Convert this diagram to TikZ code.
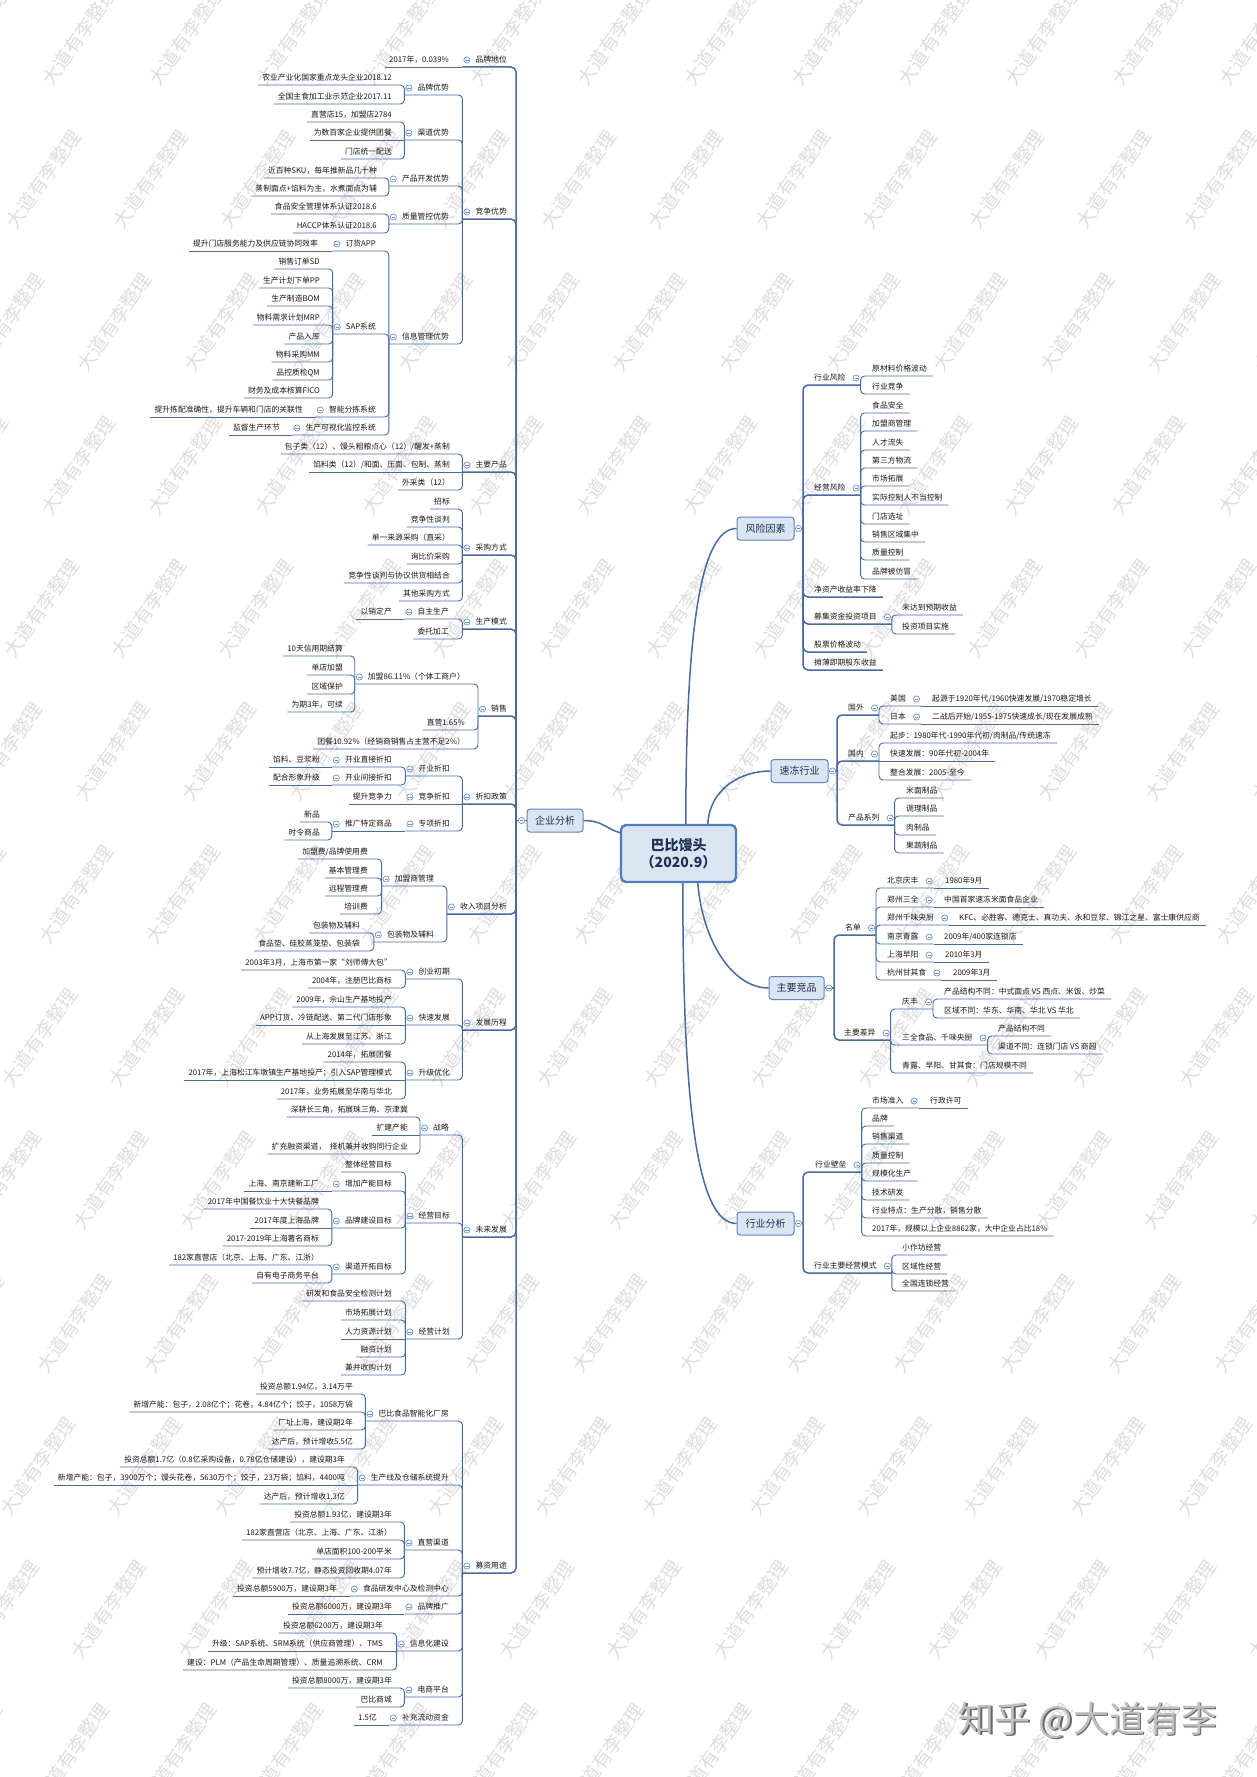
\documentclass[tikz,border=0pt]{standalone}
\usepackage{fontspec}
\setmainfont{Noto Sans CJK SC}
\usetikzlibrary{calc}
\definecolor{lc}{RGB}{72,106,160}
\definecolor{dc}{RGB}{110,145,200}
\definecolor{bxf}{RGB}{219,229,242}
\definecolor{bxd}{RGB}{96,132,188}
\definecolor{ctd}{RGB}{78,126,190}
\definecolor{txt}{RGB}{25,25,25}
\definecolor{btx}{RGB}{30,48,85}
\definecolor{wmc}{RGB}{222,222,222}
\tikzset{
  lt/.style={inner sep=0pt, font=\fontsize{7.8}{9}\selectfont, text=txt, text height=6.5pt, text depth=1.5pt},
  con/.style={draw=lc, line width=0.9pt, rounded corners=4pt},
  con1/.style={draw=lc, line width=1.5pt, rounded corners=5pt},
  bx/.style={draw=bxd, fill=bxf, rounded corners=3pt, line width=1pt, minimum width=57pt, minimum height=23pt, inner sep=0pt, font=\fontsize{10}{12}\selectfont, text=btx},
  wm/.style={inner sep=0pt, font=\fontsize{19}{19}\selectfont, text=wmc, rotate=55, anchor=west},
}
\newcommand\Dot[1]{\path #1 coordinate (dtmp);
  \filldraw[fill=white, draw=dc, line width=0.7pt] (dtmp) circle[radius=3.1pt];
  \draw[dc, line width=0.6pt] ($(dtmp)+(-1.6,0)$) -- ($(dtmp)+(1.6,0)$);}
\newcommand\SetY[2]{\expandafter\gdef\csname ty@#1\endcsname{#2}}
\newcommand\LinkL[3]{%
  \ifdim\csname ty@#2\endcsname pt=\csname ty@#3\endcsname pt
    \draw[#1] (#2-l) -- (#3-l);
  \else
    \draw[#1] (#2-l) -| (#3-l);
  \fi}
\newcommand\LinkR[3]{%
  \ifdim\csname ty@#2\endcsname pt=\csname ty@#3\endcsname pt
    \draw[#1] (#2-r) -- (#3-r);
  \else
    \draw[#1] (#2-r) -| (#3-r);
  \fi}
\newcommand\LLf[6][con]{%
  \node[lt,anchor=east] (#2) at (#4,#5) {#6};
  \SetY{#2}{#5}%
  \coordinate (#2-l) at ($(#2.west)+(-4,7)$);
  \LinkL{#1}{#2}{#3}}
\newcommand\LLp[6][con]{%
  \node[lt,anchor=east] (#2) at (#4,#5) {#6};
  \SetY{#2}{#5}%
  \coordinate (#2-l) at ($(#2.west)+(-13,7)$);
  \LinkL{#1}{#2}{#3}%
  \Dot{($(#2.west)+(-8.5,0)$)}}
\newcommand\RRf[6][con]{%
  \node[lt,anchor=west] (#2) at (#4,#5) {#6};
  \SetY{#2}{#5}%
  \coordinate (#2-r) at ($(#2.east)+(6,7)$);
  \LinkR{#1}{#2}{#3}}
\newcommand\RRp[6][con]{%
  \node[lt,anchor=west] (#2) at (#4,#5) {#6};
  \SetY{#2}{#5}%
  \coordinate (#2-r) at ($(#2.east)+(15,7)$);
  \LinkR{#1}{#2}{#3}%
  \Dot{($(#2.east)+(10.5,0)$)}}

\begin{document}
\begin{tikzpicture}[x=1pt,y=-1pt]
\useasboundingbox[fill=white] (0,0) rectangle (1256,1777);

% watermark
\begin{scope}
\clip (0,0) rectangle (1256,1777);
\foreach \k in {-4,...,9}{
  \foreach \m in {-12,...,6}{
    \node[wm] (wm\k x\m) at ({1008-36.3*\k+107*\m},{512+143*\k}) {大道有李整理};
  }}
\end{scope}
\node[font=\fontsize{36}{36}\selectfont, text=black!60, inner sep=0pt] (zh2) at (1089.5,1721.5) {知乎 @大道有李};
\node[font=\fontsize{36}{36}\selectfont, text=black!25, inner sep=0pt] (zh) at (1088,1720) {知乎 @大道有李};

% center
\node[draw=ctd, fill=bxf, line width=2.4pt, rounded corners=5pt, minimum width=115pt, minimum height=57pt, align=center, font=\bfseries\fontsize{14}{17}\selectfont, text=btx, inner sep=0pt] (ct) at (678.5,853.5) {巴比馒头\\（2020.9）};

% level 1 boxes
\node[bx, minimum width=56pt] (qy) at (555,820.5) {企业分析};
\SetY{qy}{9999}
\coordinate (qy-l) at (516,820.5);
\draw[con1] (qy.west) -- (qy-l);
\Dot{(521.5,820.5)}

\node[bx] (fx) at (765.5,528.5) {风险因素};
\SetY{fx}{9999}
\coordinate (fx-r) at (803,528.5);
\draw[con1] (fx.east) -- (fx-r);
\Dot{(798.5,528.5)}

\node[bx] (sd) at (799.5,771) {速冻行业};
\SetY{sd}{9999}
\coordinate (sd-r) at (837,771);
\draw[con1] (sd.east) -- (sd-r);
\Dot{(832.5,771)}

\node[bx, minimum width=55pt] (jp) at (796.5,988) {主要竞品};
\SetY{jp}{9999}
\coordinate (jp-r) at (834,988);
\draw[con1] (jp.east) -- (jp-r);
\Dot{(829,988)}

\node[bx] (hy) at (765.5,1223.5) {行业分析};
\SetY{hy}{9999}
\coordinate (hy-r) at (803,1223.5);
\draw[con1] (hy.east) -- (hy-r);
\Dot{(798.5,1223.5)}

% center connectors
\draw[con1] (qy.east) .. controls +(20,0) and +(-14,-3) .. ($(ct.north west)+(1,9)$);
\draw[con1] ($(ct.north west)+(66,0)$) .. controls +(0,-200) and +(-35,0) .. (fx.west);
\draw[con1] ($(ct.north west)+(88,0)$) .. controls +(2,-35) and +(-30,0) .. (sd.west);
\draw[con1] ($(ct.south west)+(78,0)$) .. controls +(5,60) and +(-35,0) .. (jp.west);
\draw[con1] ($(ct.south west)+(63,0)$) .. controls +(0,220) and +(-40,0) .. (hy.west);

% ===== LEFT =====
\LLp[con1]{A1}{qy}{507}{60}{品牌地位}
\LLf{A1a}{A1}{449}{60}{2017年，0.039\%}

\LLp[con1]{A2}{qy}{507}{212}{竞争优势}
\LLp{B1}{A2}{449}{88}{品牌优势}
\LLf{B1a}{B1}{392}{78}{农业产业化国家重点龙头企业2018.12}
\LLf{B1b}{B1}{392}{97}{全国主食加工业示范企业2017.11}
\LLp{B2}{A2}{449}{133}{渠道优势}
\LLf{B2a}{B2}{392}{115}{直营店15，加盟店2784}
\LLf{B2b}{B2}{392}{133}{为数百家企业提供团餐}
\LLf{B2c}{B2}{392}{152}{门店统一配送}
\LLp{B3}{A2}{449}{179}{产品开发优势}
\LLf{B3a}{B3}{377}{171}{近百种SKU，每年推新品几十种}
\LLf{B3b}{B3}{377}{189}{蒸制面点+馅料为主，水煮面点为辅}
\LLp{B4}{A2}{449}{217}{质量管控优势}
\LLf{B4a}{B4}{377}{207}{食品安全管理体系认证2018.6}
\LLf{B4b}{B4}{377}{226}{HACCP体系认证2018.6}
\LLp{B5}{A2}{449}{337}{信息管理优势}
\LLp{C1}{B5}{376}{244}{订货APP}
\LLf{C1a}{C1}{318}{244}{提升门店服务能力及供应链协同效率}
\LLp{C2}{B5}{376}{327}{SAP系统}
\LLf{C2a}{C2}{320}{262}{销售订单SD}
\LLf{C2b}{C2}{320}{281}{生产计划下单PP}
\LLf{C2c}{C2}{320}{299}{生产制造BOM}
\LLf{C2d}{C2}{320}{318}{物料需求计划MRP}
\LLf{C2e}{C2}{320}{337}{产品入库}
\LLf{C2f}{C2}{320}{355}{物料采购MM}
\LLf{C2g}{C2}{320}{373}{品控质检QM}
\LLf{C2h}{C2}{320}{391}{财务及成本核算FICO}
\LLp{C3}{B5}{376}{410}{智能分拣系统}
\LLf{C3a}{C3}{303}{410}{提升拣配准确性，提升车辆和门店的关联性}
\LLp{C4}{B5}{376}{428}{生产可视化监控系统}
\LLf{C4a}{C4}{280}{428}{监督生产环节}

\LLp[con1]{A3}{qy}{507}{465}{主要产品}
\LLf{A3a}{A3}{450}{447}{包子类（12）、馒头粗粮点心（12）/醒发+蒸制}
\LLf{A3b}{A3}{450}{465}{馅料类（12）/和面、压面、包制、蒸制}
\LLf{A3c}{A3}{450}{483}{外采类（12）}

\LLp[con1]{A4}{qy}{507}{548}{采购方式}
\LLf{A4a}{A4}{450}{502}{招标}
\LLf{A4b}{A4}{450}{520}{竞争性谈判}
\LLf{A4c}{A4}{450}{538}{单一来源采购（直采）}
\LLf{A4d}{A4}{450}{557}{询比价采购}
\LLf{A4e}{A4}{450}{576}{竞争性谈判与协议供货相结合}
\LLf{A4f}{A4}{450}{594}{其他采购方式}

\LLp[con1]{A5}{qy}{507}{622}{生产模式}
\LLp{A5p}{A5}{449}{612}{自主生产}
\LLf{A5pa}{A5p}{392}{612}{以销定产}
\LLf{A5q}{A5}{449}{632}{委托加工}

\LLp[con1]{A6}{qy}{507}{709}{销售}
\LLp{A6p}{A6}{465}{677}{加盟86.11\%（个体工商户）}
\LLf{A6pa}{A6p}{343}{649}{10天信用期结算}
\LLf{A6pb}{A6p}{343}{668}{单店加盟}
\LLf{A6pc}{A6p}{343}{687}{区域保护}
\LLf{A6pd}{A6p}{343}{705}{为期3年，可续}
\LLf{A6q}{A6}{465}{723}{直营1.65\%}
\LLf{A6r}{A6}{465}{742}{团餐10.92\%（经销商销售占主营不足2\%）}

\LLp[con1]{A7}{qy}{507}{797}{折扣政策}
\LLp{A7p}{A7}{450}{769}{开业折扣}
\LLp{A7p1}{A7p}{392}{760}{开业直接折扣}
\LLf{A7p1a}{A7p1}{320}{760}{馅料、豆浆粉}
\LLp{A7p2}{A7p}{392}{778}{开业间接折扣}
\LLf{A7p2a}{A7p2}{320}{778}{配合形象升级}
\LLp{A7q}{A7}{450}{797}{竞争折扣}
\LLf{A7qa}{A7q}{392}{797}{提升竞争力}
\LLp{A7r}{A7}{450}{824}{专项折扣}
\LLp{A7r1}{A7r}{392}{824}{推广特定商品}
\LLf{A7r1a}{A7r1}{320}{815}{新品}
\LLf{A7r1b}{A7r1}{320}{833}{时令商品}

\LLp[con1]{A8}{qy}{507}{907}{收入项目分析}
\LLp{A8p}{A8}{434}{879}{加盟商管理}
\LLf{A8pa}{A8p}{368}{852}{加盟费/品牌使用费}
\LLf{A8pb}{A8p}{368}{871}{基本管理费}
\LLf{A8pc}{A8p}{368}{889}{远程管理费}
\LLf{A8pd}{A8p}{368}{907}{培训费}
\LLp{A8q}{A8}{434}{935}{包装物及辅料}
\LLf{A8qa}{A8q}{360}{926}{包装物及辅料}
\LLf{A8qb}{A8q}{360}{944}{食品垫、硅胶蒸笼垫、包装袋}

\LLp[con1]{A9}{qy}{507}{1023}{发展历程}
\LLp{A9p}{A9}{450}{972}{创业初期}
\LLf{A9pa}{A9p}{392}{963}{2003年3月，上海市第一家“刘师傅大包”}
\LLf{A9pb}{A9p}{392}{981}{2004年，注册巴比商标}
\LLp{A9q}{A9}{450}{1018}{快速发展}
\LLf{A9qa}{A9q}{392}{1000}{2009年，佘山生产基地投产}
\LLf{A9qb}{A9q}{392}{1018}{APP订货、冷链配送、第二代门店形象}
\LLf{A9qc}{A9q}{392}{1037}{从上海发展至江苏、浙江}
\LLp{A9r}{A9}{450}{1073}{升级优化}
\LLf{A9ra}{A9r}{392}{1055}{2014年，拓展团餐}
\LLf{A9rb}{A9r}{392}{1073}{2017年，上海松江车墩镇生产基地投产；引入SAP管理模式}
\LLf{A9rc}{A9r}{392}{1092}{2017年，业务拓展至华南与华北}

\LLp[con1]{A10}{qy}{507}{1230}{未来发展}
\LLp{A10p}{A10}{449}{1128}{战略}
\LLf{A10pa}{A10p}{408}{1110}{深耕长三角，拓展珠三角、京津冀}
\LLf{A10pb}{A10p}{408}{1128}{扩建产能}
\LLf{A10pc}{A10p}{408}{1147}{扩充融资渠道，\ \ 择机兼并收购同行企业}
\LLp{A10q}{A10}{450}{1216}{经营目标}
\LLf{A10q1}{A10q}{392}{1165}{整体经营目标}
\LLp{A10q2}{A10q}{392}{1184}{增加产能目标}
\LLf{A10q2a}{A10q2}{319}{1184}{上海、南京建新工厂}
\LLp{A10q3}{A10q}{392}{1221}{品牌建设目标}
\LLf{A10q3a}{A10q3}{319}{1202}{2017年中国餐饮业十大快餐品牌}
\LLf{A10q3b}{A10q3}{319}{1221}{2017年度上海品牌}
\LLf{A10q3c}{A10q3}{319}{1239}{2017-2019年上海著名商标}
\LLp{A10q4}{A10q}{392}{1267}{渠道开拓目标}
\LLf{A10q4a}{A10q4}{319}{1258}{182家直营店（北京、上海、广东、江浙）}
\LLf{A10q4b}{A10q4}{319}{1276}{自有电子商务平台}
\LLp{A10r}{A10}{450}{1332}{经营计划}
\LLf{A10ra}{A10r}{392}{1294}{研发和食品安全检测计划}
\LLf{A10rb}{A10r}{392}{1313}{市场拓展计划}
\LLf{A10rc}{A10r}{392}{1332}{人力资源计划}
\LLf{A10rd}{A10r}{392}{1350}{融资计划}
\LLf{A10re}{A10r}{392}{1368}{兼并收购计划}

\LLp[con1]{A11}{qy}{507}{1566}{募资用途}
\LLp{A11p}{A11}{449}{1414}{巴比食品智能化厂房}
\LLf{A11pa}{A11p}{353}{1387}{投资总额1.94亿，3.14万平}
\LLf{A11pb}{A11p}{353}{1405}{新增产能：包子，2.08亿个；花卷，4.84亿个；饺子，1058万袋}
\LLf{A11pc}{A11p}{353}{1423}{厂址上海，建设期2年}
\LLf{A11pd}{A11p}{353}{1442}{达产后，预计增收5.5亿}
\LLp{A11q}{A11}{449}{1478}{生产线及仓储系统提升}
\LLf{A11qa}{A11q}{345}{1460}{投资总额1.7亿（0.8亿采购设备，0.78亿仓储建设），建设期3年}
\LLf{A11qb}{A11q}{345}{1478}{新增产能：包子，3900万个；馒头花卷，5630万个；饺子，23万袋；馅料，4400吨}
\LLf{A11qc}{A11q}{345}{1497}{达产后，预计增收1.3亿}
\LLp{A11r}{A11}{449}{1543}{直营渠道}
\LLf{A11ra}{A11r}{392}{1515}{投资总额1.93亿，建设期3年}
\LLf{A11rb}{A11r}{392}{1533}{182家直营店（北京、上海、广东、江浙）}
\LLf{A11rc}{A11r}{392}{1552}{单店面积100-200平米}
\LLf{A11rd}{A11r}{392}{1571}{预计增收7.7亿，静态投资回收期4.07年}
\LLp{A11s}{A11}{449}{1589}{食品研发中心及检测中心}
\LLf{A11sa}{A11s}{337}{1589}{投资总额5900万，建设期3年}
\LLp{A11t}{A11}{449}{1607}{品牌推广}
\LLf{A11ta}{A11t}{392}{1607}{投资总额6000万，建设期3年}
\LLp{A11u}{A11}{449}{1644}{信息化建设}
\LLf{A11ua}{A11u}{383}{1626}{投资总额6200万，建设期3年}
\LLf{A11ub}{A11u}{383}{1644}{升级：SAP系统、SRM系统（供应商管理）、TMS}
\LLf{A11uc}{A11u}{383}{1663}{建设：PLM（产品生命周期管理）、质量追溯系统、CRM}
\LLp{A11v}{A11}{449}{1690}{电商平台}
\LLf{A11va}{A11v}{392}{1681}{投资总额8000万，建设期3年}
\LLf{A11vb}{A11v}{392}{1700}{巴比商城}
\LLp{A11w}{A11}{449}{1718}{补充流动资金}
\LLf{A11wa}{A11w}{377}{1718}{1.5亿}

% ===== RIGHT =====
\RRp[con1]{R1p}{fx}{814}{378}{行业风险}
\RRf{R1pa}{R1p}{872}{369}{原材料价格波动}
\RRf{R1pb}{R1p}{872}{387}{行业竞争}
\RRp[con1]{R1q}{fx}{814}{488}{经营风险}
\RRf{R1qa}{R1q}{872}{406}{食品安全}
\RRf{R1qb}{R1q}{872}{424}{加盟商管理}
\RRf{R1qc}{R1q}{872}{443}{人才流失}
\RRf{R1qd}{R1q}{872}{461}{第三方物流}
\RRf{R1qe}{R1q}{872}{479}{市场拓展}
\RRf{R1qf}{R1q}{872}{498}{实际控制人不当控制}
\RRf{R1qg}{R1q}{872}{517}{门店选址}
\RRf{R1qh}{R1q}{872}{535}{销售区域集中}
\RRf{R1qi}{R1q}{872}{553}{质量控制}
\RRf{R1qj}{R1q}{872}{572}{品牌被仿冒}
\RRf[con1]{R1r}{fx}{814}{590}{净资产收益率下降}
\RRp[con1]{R1s}{fx}{814}{617}{募集资金投资项目}
\RRf{R1sa}{R1s}{902}{608}{未达到预期收益}
\RRf{R1sb}{R1s}{902}{627}{投资项目实施}
\RRf[con1]{R1t}{fx}{814}{645}{股票价格波动}
\RRf[con1]{R1u}{fx}{814}{663}{摊薄即期股东收益}

\RRp[con1]{S1p}{sd}{848}{708}{国外}
\RRp{S1p1}{S1p}{890}{699}{美国}
\RRf{S1p1a}{S1p1}{932}{699}{起源于1920年代/1960快速发展/1970稳定增长}
\RRp{S1p2}{S1p}{890}{717}{日本}
\RRf{S1p2a}{S1p2}{932}{717}{二战后开始/1955-1975快速成长/现在发展成熟}
\RRp[con1]{S1q}{sd}{848}{754}{国内}
\RRf{S1qa}{S1q}{890}{736}{起步：1980年代-1990年代初/肉制品/传统速冻}
\RRf{S1qb}{S1q}{890}{754}{快速发展：90年代初-2004年}
\RRf{S1qc}{S1q}{890}{773}{整合发展：2005-至今}
\RRp[con1]{S1r}{sd}{848}{818}{产品系列}
\RRf{S1ra}{S1r}{906}{791}{米面制品}
\RRf{S1rb}{S1r}{906}{809}{调理制品}
\RRf{S1rc}{S1r}{906}{828}{肉制品}
\RRf{S1rd}{S1r}{906}{846}{果蔬制品}

\RRp[con1]{J1p}{jp}{845}{928}{名单}
\RRp{J1p1}{J1p}{887}{881}{北京庆丰}
\RRf{J1p1a}{J1p1}{945}{881}{1980年9月}
\RRp{J1p2}{J1p}{887}{900}{郑州三全}
\RRf{J1p2a}{J1p2}{944}{900}{中国首家速冻米面食品企业}
\RRp{J1p3}{J1p}{887}{918}{郑州千味央厨}
\RRf{J1p3a}{J1p3}{959}{918}{KFC、必胜客、德克士、真功夫、永和豆浆、锦江之星、富士康供应商}
\RRp{J1p4}{J1p}{887}{937}{南京青露}
\RRf{J1p4a}{J1p4}{944}{937}{2009年/400家连锁店}
\RRp{J1p5}{J1p}{887}{955}{上海早阳}
\RRf{J1p5a}{J1p5}{945}{955}{2010年3月}
\RRp{J1p6}{J1p}{887}{973}{杭州甘其食}
\RRf{J1p6a}{J1p6}{953}{973}{2009年3月}
\RRp[con1]{J1q}{jp}{844}{1033}{主要差异}
\RRp{J1q1}{J1q}{902}{1002}{庆丰}
\RRf{J1q1a}{J1q1}{944}{992}{产品结构不同：中式面点 VS 西点、米饭、炒菜}
\RRf{J1q1b}{J1q1}{944}{1011}{区域不同：华东、华南、华北 VS 华北}
\RRp{J1q2}{J1q}{902}{1038}{三全食品、千味央厨}
\RRf{J1q2a}{J1q2}{998}{1029}{产品结构不同}
\RRf{J1q2b}{J1q2}{998}{1047}{渠道不同：连锁门店 VS 商超}
\RRf{J1q3}{J1q}{902}{1066}{青露、早阳、甘其食：门店规模不同}

\RRp[con1]{H1p}{hy}{815}{1165}{行业壁垒}
\RRp{H1p1}{H1p}{872}{1101}{市场准入}
\RRf{H1p1a}{H1p1}{930}{1101}{行政许可}
\RRf{H1pb}{H1p}{872}{1119}{品牌}
\RRf{H1pc}{H1p}{872}{1137}{销售渠道}
\RRf{H1pd}{H1p}{872}{1156}{质量控制}
\RRf{H1pe}{H1p}{872}{1174}{规模化生产}
\RRf{H1pf}{H1p}{872}{1193}{技术研发}
\RRf{H1pg}{H1p}{872}{1211}{行业特点：生产分散，销售分散}
\RRf{H1ph}{H1p}{872}{1229}{2017年，规模以上企业8862家，大中企业占比18\%}
\RRp[con1]{H1q}{hy}{814}{1266}{行业主要经营模式}
\RRf{H1qa}{H1q}{902}{1248}{小作坊经营}
\RRf{H1qb}{H1q}{902}{1267}{区域性经营}
\RRf{H1qc}{H1q}{902}{1284}{全国连锁经营}

\end{tikzpicture}
\end{document}
